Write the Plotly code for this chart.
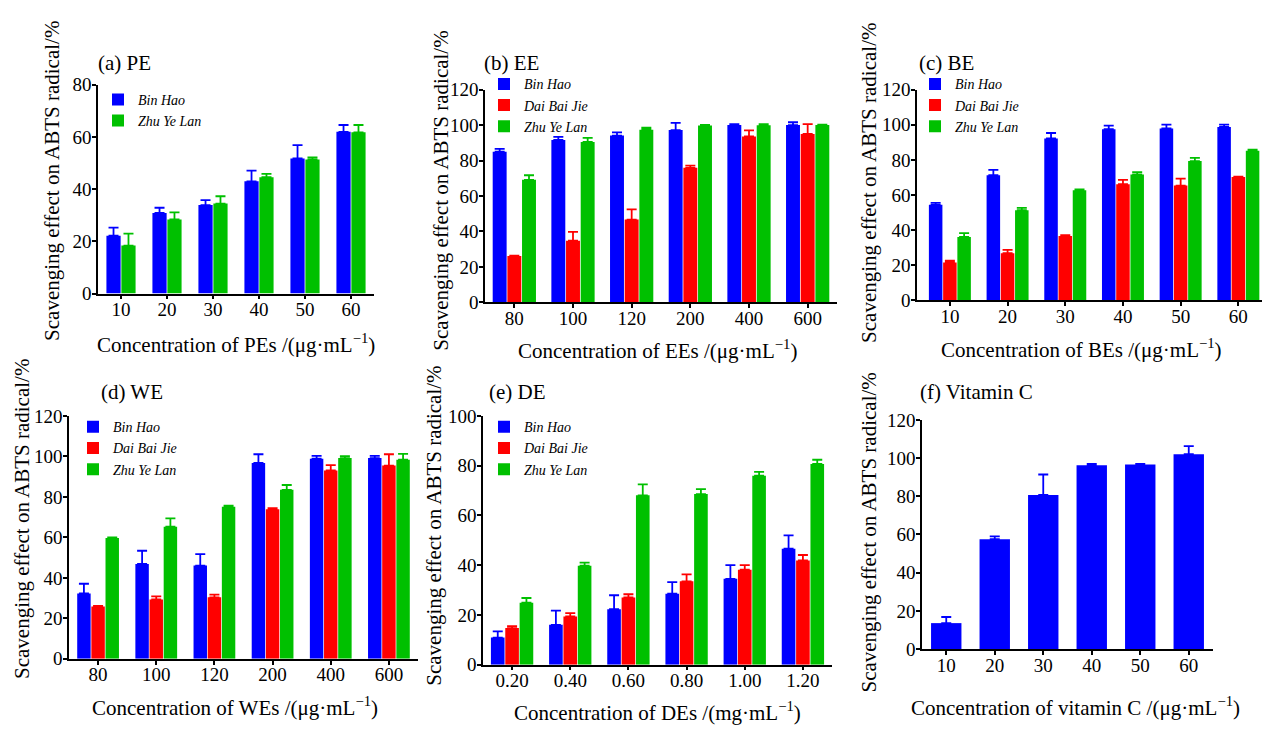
import plotly.graph_objects as go

W, H = 1262, 731

# ---------------- data ----------------
pe_cats = ["10", "20", "30", "40", "50", "60"]
pe_binhao = [22.2, 30.9, 33.9, 43.0, 51.8, 62.0]
pe_binhao_err = [3.1, 2.0, 1.9, 4.1, 5.1, 2.6]
pe_zhuyelan = [18.4, 28.4, 34.5, 44.6, 51.4, 61.8]
pe_zhuyelan_err = [4.6, 2.7, 2.8, 1.3, 0.8, 2.8]

ee_cats = ["80", "100", "120", "200", "400", "600"]
ee_binhao = [85.0, 91.6, 94.1, 97.2, 100.0, 100.0]
ee_binhao_err = [1.6, 1.8, 1.8, 4.0, 0.5, 1.6]
ee_daibaijie = [26.1, 34.8, 46.7, 75.9, 93.6, 95.0]
ee_daibaijie_err = [0.3, 5.0, 5.8, 1.2, 3.4, 5.5]
ee_zhuyelan = [69.1, 90.5, 97.4, 99.8, 99.9, 100.0]
ee_zhuyelan_err = [2.6, 2.3, 1.1, 0.3, 0.6, 0.3]

be_cats = ["10", "20", "30", "40", "50", "60"]
be_binhao = [54.4, 71.3, 92.2, 97.5, 97.9, 98.8]
be_binhao_err = [1.1, 3.0, 3.1, 2.0, 2.2, 1.3]
be_daibaijie = [21.6, 26.9, 36.7, 66.2, 65.4, 70.2]
be_daibaijie_err = [1.1, 1.9, 0.5, 2.4, 3.9, 0.3]
be_zhuyelan = [36.1, 51.4, 62.7, 71.7, 79.3, 85.2]
be_zhuyelan_err = [2.2, 1.3, 0.5, 1.3, 1.8, 0.7]

we_cats = ["80", "100", "120", "200", "400", "600"]
we_binhao = [32.3, 46.9, 46.1, 96.8, 98.9, 99.2]
we_binhao_err = [4.8, 6.5, 5.6, 4.3, 1.4, 1.1]
we_daibaijie = [25.9, 29.3, 30.4, 73.9, 93.1, 95.5]
we_daibaijie_err = [0.2, 1.6, 1.3, 0.5, 2.6, 5.6]
we_zhuyelan = [59.7, 65.3, 75.2, 83.5, 99.2, 98.4]
we_zhuyelan_err = [0.3, 4.1, 0.5, 2.4, 1.0, 2.9]

de_cats = ["0.20", "0.40", "0.60", "0.80", "1.00", "1.20"]
de_binhao = [10.9, 16.0, 22.3, 28.5, 34.5, 46.6]
de_binhao_err = [2.5, 5.7, 5.6, 4.7, 5.5, 5.4]
de_daibaijie = [14.7, 19.4, 27.0, 33.5, 38.2, 41.9]
de_daibaijie_err = [0.8, 1.3, 1.3, 2.8, 1.8, 2.2]
de_zhuyelan = [24.9, 39.8, 68.1, 68.6, 76.0, 80.7]
de_zhuyelan_err = [1.9, 1.2, 4.4, 2.0, 1.5, 1.7]

vc_cats = ["10", "20", "30", "40", "50", "60"]
vc_values = [13.6, 57.5, 80.7, 96.3, 96.6, 102.0]
vc_err = [3.2, 1.5, 10.7, 0.6, 0.3, 4.3]

series_names = ["Bin Hao", "Dai Bai Jie", "Zhu Ye Lan"]
y_title = "Scavenging effect on ABTS radical/%"

# ---------------- styles ----------------
BLUE, RED, GREEN = "#0000FF", "#FF0000", "#00C000"
FONT = "Liberation Serif, Times New Roman, Tinos, DejaVu Serif, serif"


def px(x):
    return x / W


def py(y):
    return 1 - y / H


panels = [
    dict(key="", cats=pe_cats,
         series=[(series_names[0], pe_binhao, pe_binhao_err, BLUE),
                 (series_names[2], pe_zhuyelan, pe_zhuyelan_err, GREEN)],
         dx=(98, 374), dy=(77, 292), yr=(0, 80), xr=(-0.5, 5.5), occ=0.65,
         legend=(98, 76), title="(a) PE", tpos=(96, 55),
         xtitle="Concentration of PEs /(μg·mL<sup>−1</sup>)", xtpos=(236, 343),
         ytpos=(52, 176)),
    dict(key="2", cats=ee_cats,
         series=[(series_names[0], ee_binhao, ee_binhao_err, BLUE),
                 (series_names[1], ee_daibaijie, ee_daibaijie_err, RED),
                 (series_names[2], ee_zhuyelan, ee_zhuyelan_err, GREEN)],
         dx=(485, 837), dy=(82, 301), yr=(0, 120), xr=(-0.5, 5.5), occ=0.75,
         legend=(484, 60), title="(b) EE", tpos=(482, 55),
         xtitle="Concentration of EEs /(μg·mL<sup>−1</sup>)", xtpos=(657, 350),
         ytpos=(441, 186)),
    dict(key="3", cats=be_cats,
         series=[(series_names[0], be_binhao, be_binhao_err, BLUE),
                 (series_names[1], be_daibaijie, be_daibaijie_err, RED),
                 (series_names[2], be_zhuyelan, be_zhuyelan_err, GREEN)],
         dx=(917, 1262), dy=(82, 299), yr=(0, 120), xr=(-0.57, 5.41), occ=0.74,
         legend=(915, 60), title="(c) BE", tpos=(917, 55),
         xtitle="Concentration of BEs /(μg·mL<sup>−1</sup>)", xtpos=(1081, 348),
         ytpos=(869, 178)),
    dict(key="4", cats=we_cats,
         series=[(series_names[0], we_binhao, we_binhao_err, BLUE),
                 (series_names[1], we_daibaijie, we_daibaijie_err, RED),
                 (series_names[2], we_zhuyelan, we_zhuyelan_err, GREEN)],
         dx=(69, 418), dy=(418, 668), yr=(0, 120), xr=(-0.5, 5.5), occ=0.73,
         legend=(73, 413), title="(d) WE", tpos=(99, 393),
         xtitle="Concentration of WEs /(μg·mL<sup>−1</sup>)", xtpos=(235, 717),
         ytpos=(22, 524)),
    dict(key="5", cats=de_cats,
         series=[(series_names[0], de_binhao, de_binhao_err, BLUE),
                 (series_names[1], de_daibaijie, de_daibaijie_err, RED),
                 (series_names[2], de_zhuyelan, de_zhuyelan_err, GREEN)],
         dx=(483, 832), dy=(418, 674), yr=(0, 100), xr=(-0.5, 5.5), occ=0.74,
         legend=(484, 413), title="(e) DE", tpos=(487, 393),
         xtitle="Concentration of DEs /(mg·mL<sup>−1</sup>)", xtpos=(657, 722),
         ytpos=(434, 531)),
    dict(key="6", cats=vc_cats,
         series=[("Vitamin C", vc_values, vc_err, BLUE)],
         dx=(922, 1213), dy=(422, 658), yr=(0, 120), xr=(-0.5, 5.5), occ=0.66,
         legend=None, title="(f) Vitamin C", tpos=(918, 393),
         xtitle="Concentration of vitamin C /(μg·mL<sup>−1</sup>)", xtpos=(1075, 717),
         ytpos=(869, 538)),
]

fig = go.Figure()
layout = dict(
    width=W, height=H, margin=dict(l=0, r=0, t=0, b=0),
    paper_bgcolor="white", plot_bgcolor="white",
    font=dict(family=FONT, color="black", size=18),
    barmode="group", showlegend=True,
)
annotations = []

legend_index = 0
for p in panels:
    k = p["key"]
    xa = "x" + k
    ya = "y" + k
    n = len(p["series"])
    slot = p["occ"] / n
    if p["legend"] is not None:
        legend_index += 1
        lname = "legend" if legend_index == 1 else f"legend{legend_index}"
        lx, ly = p["legend"]
        layout[lname] = dict(
            x=px(lx), y=py(ly), xanchor="left", yanchor="top",
            bgcolor="rgba(0,0,0,0)", borderwidth=0,
            font=dict(family=FONT, size=14, color="black"),
            itemwidth=30, tracegroupgap=0, traceorder="normal",
        )
    else:
        lname = None
    for i, (name, vals, errs, col) in enumerate(p["series"]):
        fig.add_trace(go.Bar(
            x=p["cats"], y=vals, name=f"<i>{name}</i>",
            xaxis=xa, yaxis=ya,
            marker=dict(color=col, line=dict(width=0)),
            width=slot * 0.95,
            offset=-p["occ"] / 2 + i * slot + slot * 0.025,
            error_y=dict(type="data", array=errs, arrayminus=[0] * len(errs),
                         symmetric=False, color=col, thickness=1.8, width=5),
            showlegend=lname is not None,
            legend=lname if lname else "legend",
        ))
    axis_common = dict(showline=True, linecolor="black", linewidth=1.5,
                       ticks="outside", ticklen=4, tickwidth=1.5, tickcolor="black",
                       showgrid=False, zeroline=False,
                       tickfont=dict(family=FONT, size=19, color="black"))
    xkey = "xaxis" + k
    ykey = "yaxis" + k
    layout[xkey] = dict(axis_common, domain=[px(p["dx"][0]), px(p["dx"][1])],
                        anchor=ya, type="category", range=list(p["xr"]),
                        ticklabelstandoff=-6)
    layout[ykey] = dict(axis_common, domain=[py(p["dy"][1]), py(p["dy"][0])],
                        anchor=xa, range=list(p["yr"]), dtick=20, tick0=0,
                        ticklabelstandoff=-3)
    annotations.append(dict(text=p["title"], x=px(p["tpos"][0]), y=py(p["tpos"][1]),
                            xref="paper", yref="paper", xanchor="left", yanchor="middle",
                            showarrow=False, font=dict(family=FONT, size=21, color="black")))
    annotations.append(dict(text=p["xtitle"], x=px(p["xtpos"][0]), y=py(p["xtpos"][1]),
                            xref="paper", yref="paper", xanchor="center", yanchor="middle",
                            showarrow=False, font=dict(family=FONT, size=21, color="black")))
    annotations.append(dict(text=y_title, x=px(p["ytpos"][0]), y=py(p["ytpos"][1]),
                            xref="paper", yref="paper", xanchor="center", yanchor="middle",
                            textangle=-90, showarrow=False,
                            font=dict(family=FONT, size=21, color="black")))

layout["annotations"] = annotations
fig.update_layout(**layout)
fig.write_html("out.html")
